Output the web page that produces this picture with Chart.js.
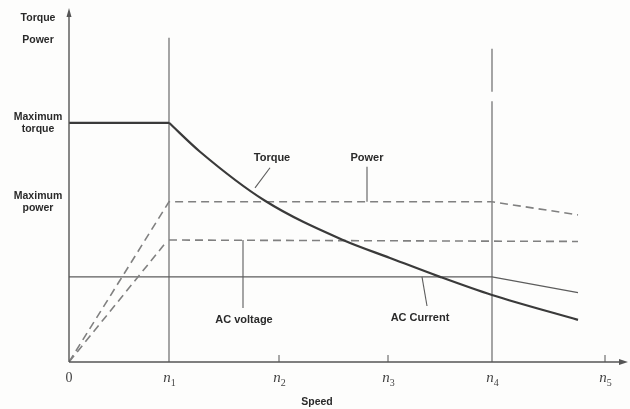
<!DOCTYPE html>
<html>
<head>
<meta charset="utf-8">
<script src="https://cdn.jsdelivr.net/npm/chart.js@4/dist/chart.umd.min.js"></script>
<style>
  html, body { margin: 0; padding: 0; background: #fdfdfc; }
  #wrap { width: 630px; height: 409px; }
</style>
</head>
<body>
<div id="wrap"><canvas id="chart"></canvas></div>
<script>
// speed axis (n1 = 1)
const speedTicks  = [0, 1, 2.1, 3.19, 4.23, 5.36];
const speedSubs   = ['', '1', '2', '3', '4', '5'];
const speedMax    = 5.59;
// vertical axis, % of maximum torque
const levelMax    = 148;
const levelTicks  = [100, 67];
const levelLabels = [['Maximum', 'torque'], ['Maximum', 'power']];

// series
const maxTorqueX = [0, 1];
const maxTorqueY = [100, 100];
const torqueX  = [1, 1.31, 1.96, 2.74, 3.21, 3.71, 4.23, 5.09];
const torqueY  = [100, 87.9, 67.4, 51.0, 43.5, 35.6, 28.0, 17.6];
const powerX   = [0, 1, 4.23, 5.09];
const powerY   = [0, 67, 67, 61.5];
const voltRampX = [0, 0.95];
const voltRampY = [0, 49];
const voltX    = [1, 5.09];
const voltY    = [51, 50.4];
const currentX = [0, 4.23, 5.09];
const currentY = [35.6, 35.6, 29];
// vertical markers at n1 and n4
const n1LineY  = [0, 135.6];
const n4LineY  = [[0, 109], [113, 131]];

// callouts
const noteText  = ['Torque', 'Power', 'AC voltage', 'AC Current'];
const noteX     = [2.03, 2.98, 1.75, 3.51];
const noteY     = [85.4, 85.4, 17.6, 18.4];
const leadFromX = [1.86, 2.98, 1.74, 3.53];
const leadFromY = [72.8, 67, 51, 35.6];
const leadToX   = [2.01, 2.98, 1.74, 3.58];
const leadToY   = [81.2, 81.6, 22.6, 23.4];

const pts = (xs, ys) => xs.map((x, i) => ({ x, y: ys[i] }));

const INK = '#3a3a3a';
const THIN = '#5c5c5c';
const DASH = '#808080';

const datasets = [
  { data: pts(maxTorqueX, maxTorqueY), borderColor: INK, borderWidth: 2.2 },
  { data: pts(torqueX, torqueY), borderColor: INK, borderWidth: 2.2, cubicInterpolationMode: 'monotone' },
  { data: pts(powerX, powerY), borderColor: DASH, borderWidth: 1.6, borderDash: [8, 5] },
  { data: pts(voltRampX, voltRampY), borderColor: DASH, borderWidth: 1.6, borderDash: [8, 5] },
  { data: pts(voltX, voltY), borderColor: DASH, borderWidth: 1.6, borderDash: [8, 5] },
  { data: pts(currentX, currentY), borderColor: THIN, borderWidth: 1.2 },
  { data: pts([speedTicks[1], speedTicks[1]], n1LineY), borderColor: THIN, borderWidth: 1.1 },
  ...n4LineY.map(seg => ({ data: pts([speedTicks[4], speedTicks[4]], seg), borderColor: THIN, borderWidth: 1.1 })),
];
datasets.forEach(d => { d.pointRadius = 0; d.fill = false; });

const decor = {
  id: 'decor',
  afterDatasetsDraw(chart) {
    const ctx = chart.ctx;
    const xs = chart.scales.x, ys = chart.scales.y;
    const x0 = xs.getPixelForValue(0), y0 = ys.getPixelForValue(0);
    const xEnd = xs.getPixelForValue(speedMax), yTop = ys.getPixelForValue(levelMax);
    ctx.save();

    // axes with arrow heads
    ctx.strokeStyle = '#555';
    ctx.fillStyle = '#555';
    ctx.lineWidth = 1.4;
    ctx.beginPath();
    ctx.moveTo(x0, y0); ctx.lineTo(xEnd - 4, y0);
    ctx.moveTo(x0, y0); ctx.lineTo(x0, yTop + 4);
    ctx.stroke();
    ctx.beginPath();
    ctx.moveTo(xEnd, y0); ctx.lineTo(xEnd - 9, y0 - 3); ctx.lineTo(xEnd - 9, y0 + 3); ctx.closePath();
    ctx.moveTo(x0, yTop); ctx.lineTo(x0 - 2.5, yTop + 9); ctx.lineTo(x0 + 2.5, yTop + 9); ctx.closePath();
    ctx.fill();

    // small ticks rising from the speed axis
    ctx.lineWidth = 1;
    ctx.beginPath();
    [2, 3, 5].forEach(i => {
      const px = xs.getPixelForValue(speedTicks[i]);
      ctx.moveTo(px, y0); ctx.lineTo(px, y0 - 7);
    });
    ctx.stroke();

    // speed tick labels: italic n with subscript
    ctx.fillStyle = '#444';
    ctx.textBaseline = 'alphabetic';
    speedTicks.forEach((v, i) => {
      const px = xs.getPixelForValue(v);
      if (i === 0) {
        ctx.font = '14px "Liberation Serif"';
        ctx.textAlign = 'center';
        ctx.fillText('0', px, y0 + 20);
        return;
      }
      ctx.font = 'italic 15px "Liberation Serif"';
      const w = ctx.measureText('n').width;
      ctx.textAlign = 'left';
      ctx.fillText('n', px - w / 2 - 2, y0 + 20);
      ctx.font = '10px "Liberation Serif"';
      ctx.fillText(speedSubs[i], px + w / 2 - 2, y0 + 24);
    });

    // axis titles and level labels
    ctx.fillStyle = '#2a2a2a';
    ctx.textAlign = 'center';
    ctx.textBaseline = 'middle';
    ctx.font = 'bold 10.5px "Liberation Sans"';
    ctx.fillText('Speed', 317, y0 + 40);
    ctx.fillText('Torque', 38, 18);
    ctx.fillText('Power', 38, 40);
    levelTicks.forEach((v, i) => {
      const py = ys.getPixelForValue(v);
      ctx.fillText(levelLabels[i][0], 38, py - 6);
      ctx.fillText(levelLabels[i][1], 38, py + 6);
    });

    // callouts with leader lines
    ctx.strokeStyle = THIN;
    ctx.lineWidth = 1.1;
    ctx.font = 'bold 11px "Liberation Sans"';
    noteText.forEach((t, i) => {
      ctx.beginPath();
      ctx.moveTo(xs.getPixelForValue(leadFromX[i]), ys.getPixelForValue(leadFromY[i]));
      ctx.lineTo(xs.getPixelForValue(leadToX[i]), ys.getPixelForValue(leadToY[i]));
      ctx.stroke();
      ctx.fillText(t, xs.getPixelForValue(noteX[i]), ys.getPixelForValue(noteY[i]));
    });
    ctx.restore();
  }
};

new Chart(document.getElementById('chart'), {
  type: 'line',
  data: { datasets },
  options: {
    responsive: true,
    maintainAspectRatio: false,
    animation: false,
    layout: { padding: { left: 69, right: 2, top: 8, bottom: 47 } },
    plugins: { legend: { display: false }, tooltip: { enabled: false } },
    scales: {
      x: { type: 'linear', min: 0, max: speedMax, display: false },
      y: { type: 'linear', min: 0, max: levelMax, display: false },
    },
  },
  plugins: [decor],
});
</script>
</body>
</html>
